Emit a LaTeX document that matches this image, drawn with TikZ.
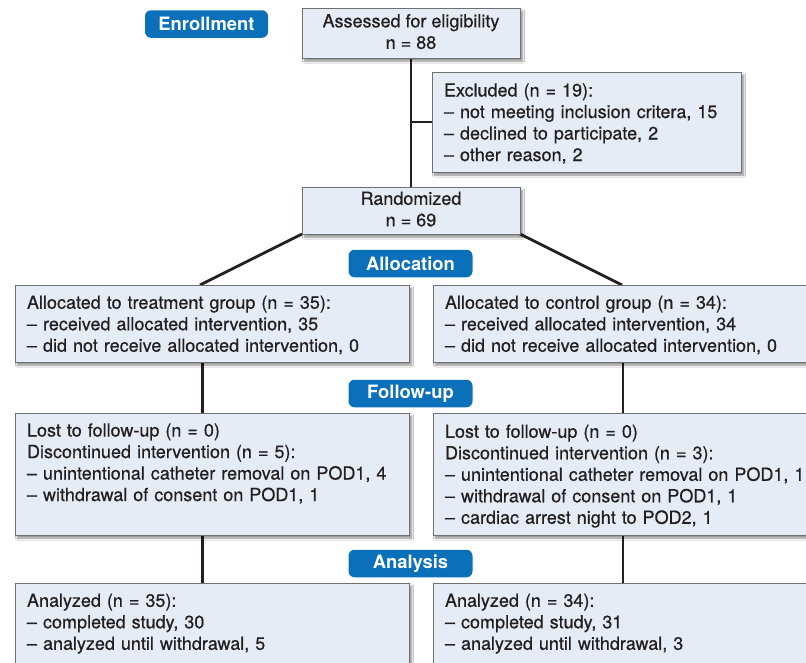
\documentclass[tikz,border=0pt]{standalone}
\usepackage{fontspec}
\setmainfont{TeX Gyre Heros}
\newfontfamily\bodyfont{TeX Gyre Heros}[FakeBold=0.5]
\usetikzlibrary{shadows,shadows.blur}
\newcommand\bstrut{\rule[-4pt]{0pt}{21.5pt}}
\newcommand\cstrut{\rule[-3pt]{0pt}{23pt}}
\definecolor{pillblue}{HTML}{0A70B9}
\definecolor{boxfill}{HTML}{E6ECF6}
\definecolor{boxline}{HTML}{707070}
\definecolor{conn}{HTML}{231F20}
\definecolor{txt}{HTML}{231F20}
\begin{document}
\begin{tikzpicture}[x=1pt,y=-1pt,
  box/.style={draw=boxline, line width=1pt, fill=boxfill, outer sep=0pt,
    blur shadow={shadow xshift=2.5pt, shadow yshift=-3pt, shadow blur steps=6, shadow opacity=45},
    text=txt, font=\bodyfont\fontsize{18}{21.5}\selectfont, inner sep=0pt},
  lbox/.style={box, align=left, text width=#1,
    execute at begin node=\bstrut, execute at end node=\bstrut},
  cbox/.style={box, align=center,
    execute at begin node=\cstrut, execute at end node=\cstrut},
  pill/.style={fill=pillblue, rounded corners=6pt, text=white,
    font=\fontsize{18.4}{20}\selectfont\bfseries, minimum height=27.5pt, inner sep=0pt, outer sep=0pt},
  conn/.style={draw=conn, line width=2.8pt}
]
\useasboundingbox (0,0) rectangle (806,662);
\fill[white] (0,0) rectangle (806,662);

% pills
\node[pill, minimum width=123pt] (penr) at (206.5,24) {Enrollment};
\node[pill, minimum width=124pt] (palloc) at (410.5,263.5) {Allocation};
\node[pill, minimum width=124pt] (pfu) at (410.5,393.5) {Follow-up};
\node[pill, minimum width=124pt] (pan) at (410.5,563.5) {Analysis};

% connectors (drawn first, boxes on top)
\coordinate (assessS) at (411,58);
\coordinate (randN) at (411,187);
\coordinate (j) at (411,122);
\coordinate (randSW) at (302,234);
\coordinate (randSE) at (520,234);
\coordinate (allocLN) at (200,285);
\coordinate (allocRN) at (622,285);
\coordinate (allocLS) at (202.5,362);
\coordinate (fuLN) at (202.5,413);
\coordinate (allocRS) at (623,362);
\coordinate (fuRN) at (623,413);
\coordinate (fuLS) at (202.5,535);
\coordinate (anLN) at (202.5,583);
\coordinate (fuRS) at (623,535);
\coordinate (anRN) at (623,583);
\coordinate (exW) at (432,122);

\draw[conn] (assessS) -- (randN);
\draw[conn] (j) -- (exW);
\draw[conn] (randSW) -- (allocLN);
\draw[conn] (randSE) -- (allocRN);
\draw[conn] (allocLS) -- (fuLN);
\draw[conn] (allocRS) -- (fuRN);
\draw[conn] (fuLS) -- (anLN);
\draw[conn] (fuRS) -- (anRN);

% boxes
\node[cbox, minimum width=218pt, minimum height=50pt] (assess) at (411,33)
  {Assessed for eligibility\\n = 88};
\node[lbox=285pt, minimum width=300pt, minimum height=100pt, inner xsep=12pt, anchor=north west] (excl) at (432,72)
  {Excluded (n = 19):\\– not meeting inclusion critera, 15\\– declined to participate, 2\\– other reason, 2};
\node[cbox, minimum width=218pt, minimum height=47pt] (rand) at (411,210.5)
  {Randomized\\n = 69};

\node[lbox=370pt, minimum width=375pt, minimum height=77pt, inner xsep=12pt, anchor=north west] (allocL) at (15,285)
  {Allocated to treatment group (n = 35):\\– received allocated intervention, 35\\– did not receive allocated intervention, 0};
\node[lbox=370pt, minimum width=375pt, minimum height=77pt, inner xsep=12pt, anchor=north west] (allocR) at (433,285)
  {Allocated to control group (n = 34):\\– received allocated intervention, 34\\– did not receive allocated intervention, 0};

\node[lbox=370pt, minimum width=375pt, minimum height=122pt, inner xsep=12pt, anchor=north west] (fuL) at (15,413)
  {Lost to follow-up (n = 0)\\Discontinued intervention (n = 5):\\– unintentional catheter removal on POD1, 4\\– withdrawal of consent on POD1, 1\\\strut};
\node[lbox=370pt, minimum width=375pt, minimum height=122pt, inner xsep=12pt, anchor=north west] (fuR) at (433,413)
  {Lost to follow-up (n = 0)\\Discontinued intervention (n = 3):\\– unintentional catheter removal on POD1, 1\\– withdrawal of consent on POD1, 1\\– cardiac arrest night to POD2, 1};

\node[lbox=370pt, minimum width=375pt, minimum height=126pt, inner xsep=12pt, anchor=north west] (anL) at (15,583)
  {Analyzed (n = 35):\\– completed study, 30\\– analyzed until withdrawal, 5\\\strut\\\strut};
\node[lbox=370pt, minimum width=375pt, minimum height=126pt, inner xsep=12pt, anchor=north west] (anR) at (433,583)
  {Analyzed (n = 34):\\– completed study, 31\\– analyzed until withdrawal, 3\\\strut\\\strut};
\end{tikzpicture}
\end{document}
